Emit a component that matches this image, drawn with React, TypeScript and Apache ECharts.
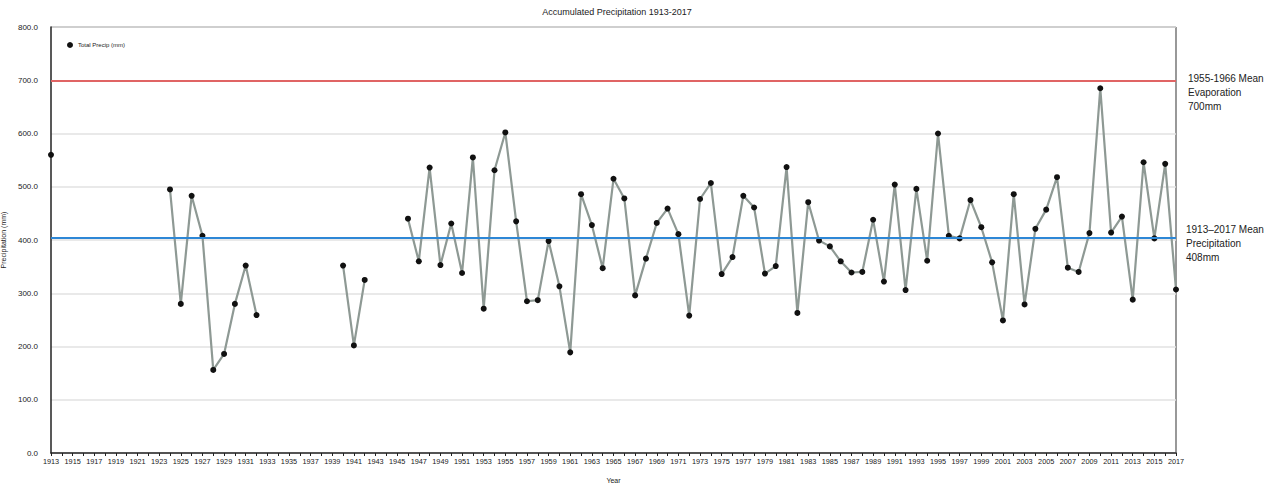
import React, { useEffect, useRef } from "react";
import * as echarts from "echarts";

const FIRST_YEAR = 1913;
const LAST_YEAR = 2017;
const years: string[] = [];
for (let y = FIRST_YEAR; y <= LAST_YEAR; y++) years.push(String(y));

// Total precipitation (mm) by year, 1913..2017 (null = no record)
const precip1913to1945: (number | null)[] = [
  560, null, null, null, null, null, null, null, null, null, null,
  495, 280, 483, 408, 156, 186, 280, 352, 259,
  null, null, null, null, null, null, null,
  352, 202, 325,
  null, null, null,
];
const precip1946to1979: number[] = [
  440, 360, 536, 353, 431, 338, 555, 271, 531, 602,
  435, 285, 287, 398, 313, 189, 486, 428, 347, 515,
  478, 296, 365, 432, 459, 411, 258, 477, 507, 336,
  368, 483, 461, 337,
];
const precip1980to2017: number[] = [
  351, 537, 263, 471, 399, 388, 360, 339, 340, 438,
  322, 504, 306, 496, 361, 600, 408, 403, 475, 424,
  358, 249, 486, 279, 421, 457, 518, 348, 340, 413,
  685, 414, 444, 288, 546, 403, 543, 307,
];
const precip = [...precip1913to1945, ...precip1946to1979, ...precip1980to2017];

const evaporationMean = 700;
const precipMean = 405;

const FONT = "Liberation Sans";

export default function App() {
  const ref = useRef<HTMLDivElement>(null);
  useEffect(() => {
    if (!ref.current) return;
    const chart = echarts.init(ref.current, undefined, { renderer: "svg" });
    chart.setOption({
      animation: false,
      backgroundColor: "#ffffff",
      textStyle: { fontFamily: FONT },
      title: {
        text: "Accumulated Precipitation 1913-2017",
        left: 612,
        textAlign: "center",
        top: 2,
        textStyle: { fontSize: 9, fontWeight: "normal", color: "#222", fontFamily: FONT },
      },
      legend: {
        left: 62,
        top: 37,
        icon: "circle",
        itemWidth: 6,
        itemHeight: 6,
        itemGap: 4,
        textStyle: { fontSize: 6, color: "#222", fontFamily: FONT },
        data: ["Total Precip (mm)"],
      },
      grid: {
        left: 51,
        right: 97,
        top: 27,
        bottom: 30,
        containLabel: false,
        outerBoundsMode: "none",
      },
      xAxis: {
        type: "category",
        data: years,
        boundaryGap: false,
        name: "Year",
        nameLocation: "middle",
        nameGap: 24,
        nameTextStyle: { fontSize: 7, color: "#222", fontFamily: FONT },
        axisLine: { lineStyle: { color: "#222", width: 1.5 } },
        axisTick: { interval: 0, length: 3, lineStyle: { color: "#222" } },
        axisLabel: { interval: 1, fontSize: 7.3, color: "#222", margin: 5, fontFamily: FONT },
        splitLine: { show: false },
      },
      yAxis: {
        type: "value",
        min: 0,
        max: 800,
        interval: 100,
        name: "Precipitation (mm)",
        nameLocation: "middle",
        nameGap: 40,
        nameTextStyle: { fontSize: 7, color: "#222", fontFamily: FONT },
        axisLine: { show: true, lineStyle: { color: "#222", width: 1.5 } },
        axisTick: { show: false },
        axisLabel: {
          fontSize: 8,
          color: "#222",
          fontFamily: FONT,
          margin: 13,
          formatter: (v: number) => v.toFixed(1),
        },
        splitLine: { lineStyle: { color: "#e2e2e2", width: 1.5 } },
      },
      series: [
        {
          name: "Total Precip (mm)",
          type: "line",
          data: precip,
          connectNulls: false,
          showSymbol: true,
          showAllSymbol: true,
          symbol: "circle",
          symbolSize: 6,
          itemStyle: { color: "#111" },
          lineStyle: { color: "#8e9994", width: 2.2 },
          z: 3,
          markLine: {
            silent: true,
            symbol: "none",
            label: { show: false },
            data: [
              { yAxis: evaporationMean, lineStyle: { color: "#e06464", width: 2, type: "solid" } },
              { yAxis: precipMean, lineStyle: { color: "#2d87d6", width: 2, type: "solid" } },
            ],
          },
        },
      ],
      graphic: [
        {
          type: "rect",
          shape: { x: 1176, y: 27, width: 0, height: 426 },
          style: { stroke: "#555", lineWidth: 1.2, fill: "none" },
          silent: true,
        },
        {
          type: "rect",
          shape: { x: 51, y: 27, width: 1125, height: 0 },
          style: { stroke: "#333", lineWidth: 1.2, fill: "none" },
          silent: true,
        },
        {
          type: "text",
          x: 1188,
          y: 71,
          style: {
            text: "1955-1966 Mean\nEvaporation\n700mm",
            fontSize: 10,
            lineHeight: 14,
            fill: "#222",
            fontFamily: FONT,
          },
        },
        {
          type: "text",
          x: 1186,
          y: 222,
          style: {
            text: "1913\u20132017 Mean\nPrecipitation\n408mm",
            fontSize: 10,
            lineHeight: 14,
            fill: "#222",
            fontFamily: FONT,
          },
        },
      ],
    });
    return () => chart.dispose();
  }, []);
  return <div ref={ref} style={{ width: 1273, height: 483, position: "absolute", left: 0, top: 0 }} />;
}
